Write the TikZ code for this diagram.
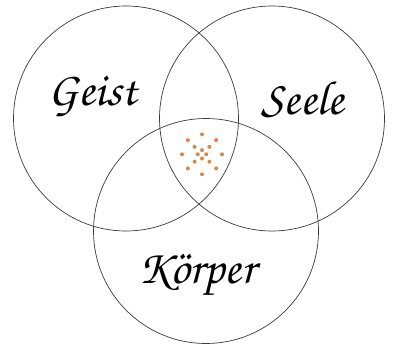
\documentclass[tikz,border=0pt]{standalone}
\usepackage{tikz}
\usetikzlibrary{positioning}
\definecolor{dotcol}{HTML}{D4894F}
\definecolor{ringcol}{HTML}{3A3A3A}
\newcommand{\vennfont}{\fontencoding{T1}\fontfamily{pzc}\fontsize{48}{52}\selectfont}

\begin{document}
\begin{tikzpicture}[
  x=1pt, y=-1pt,
  ring/.style={draw=ringcol, line width=0.7pt},
  lbl/.style={font=\vennfont, text=black, inner sep=0pt},
  dot/.style={fill=dotcol}
]
  \useasboundingbox (0,0) rectangle (393,350);

  \draw[ring] (126,118.5) circle (112.5);
  \draw[ring] (272,118.5) circle (112.5);
  \draw[ring] (206,231)   circle (112.5);

  \node[lbl] (geist)  at (93,97)   {Geist};
  \node[lbl] (seele)  at (303,99)  {Seele};
  \node[lbl] (koerper) at (197,276) {K\"orper};

  \coordinate (mid) at (202,154.3);
  \foreach \a in {0,45,...,315}
    \fill[dot] (mid) ++(\a:20) circle (2);
  \foreach \a in {45,135,225,315}
    \fill[dot] (mid) ++(\a:10.5) circle (2);
  \foreach \a in {0,90,180,270}
    \fill[dot] (mid) ++(\a:4.2) circle (2);
\end{tikzpicture}
\end{document}
